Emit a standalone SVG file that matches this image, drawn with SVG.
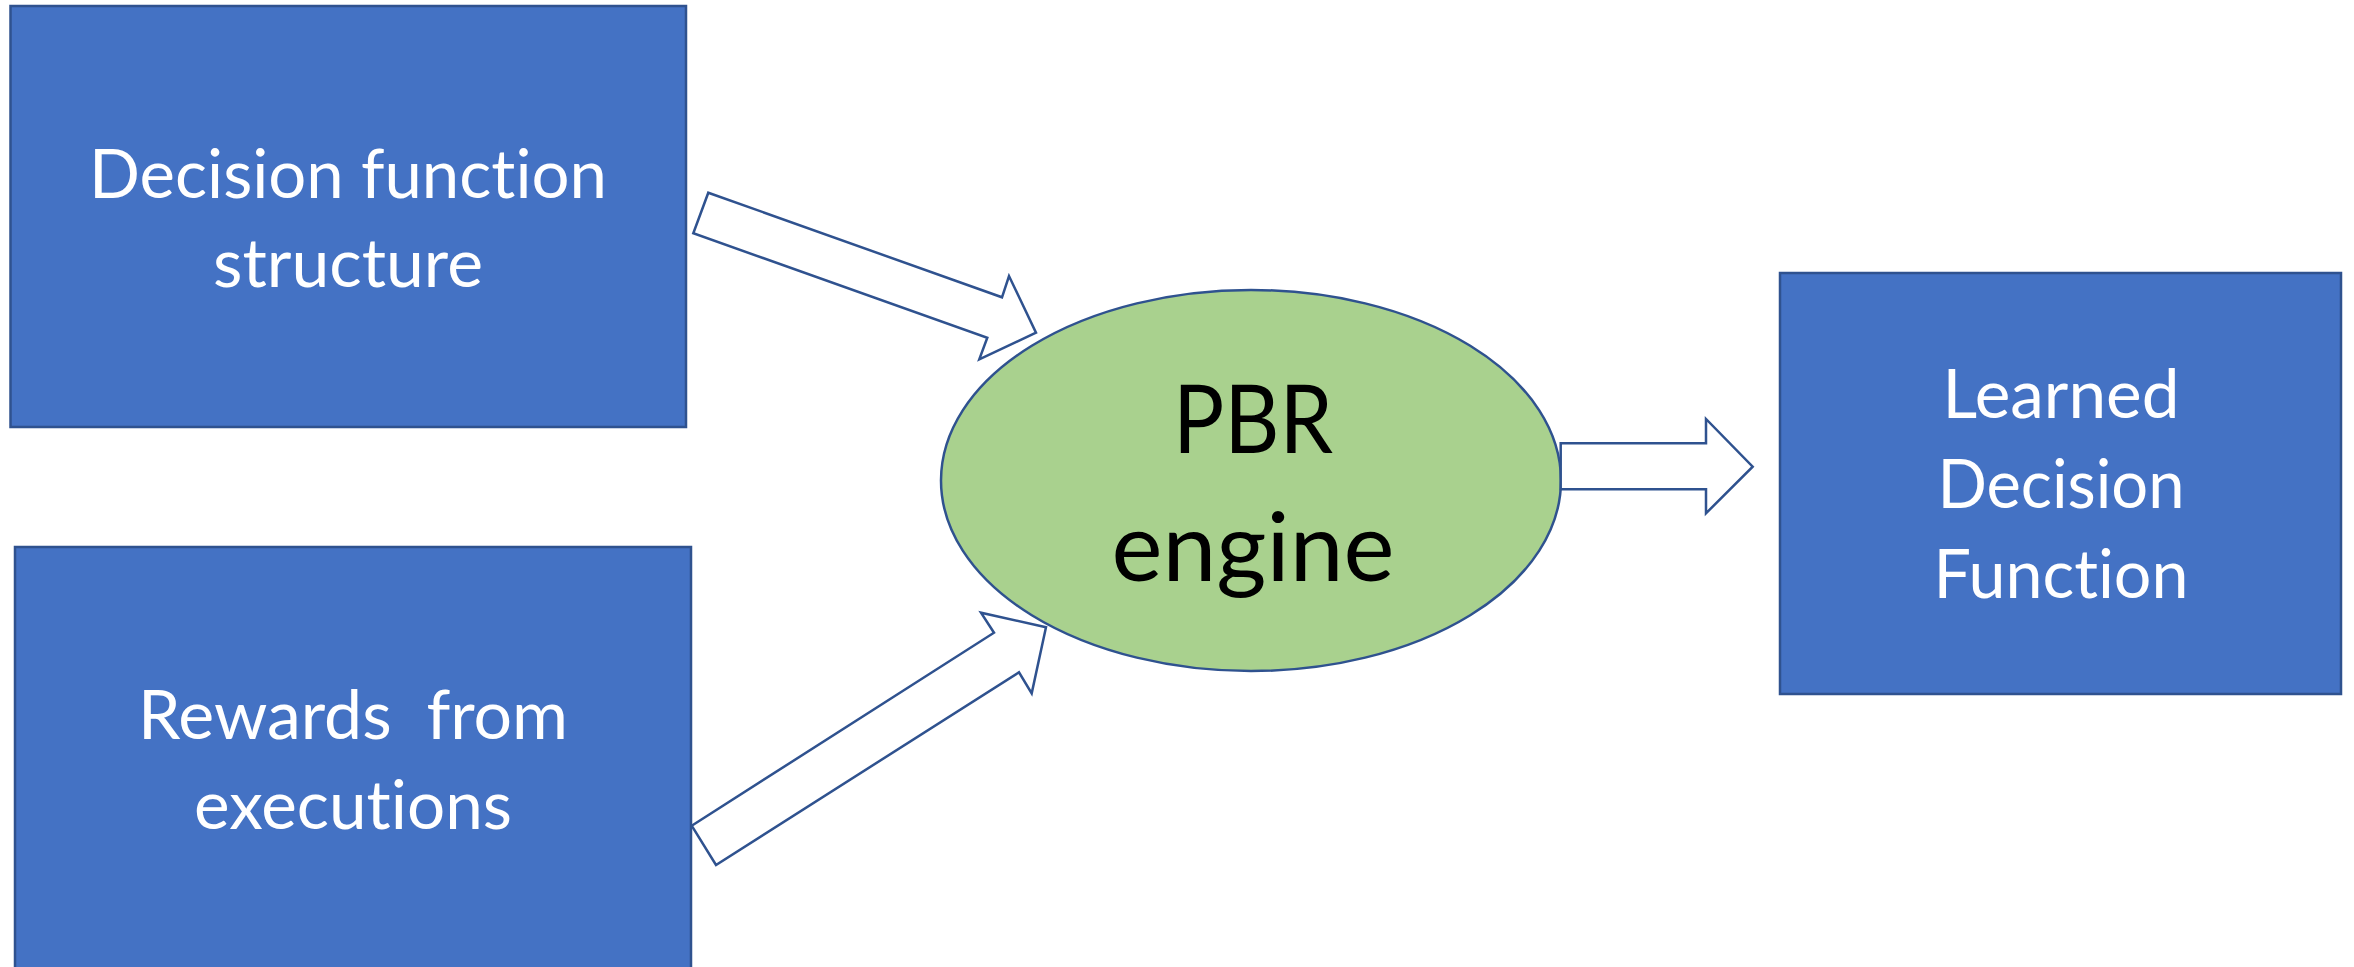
<svg xmlns="http://www.w3.org/2000/svg" width="2354" height="967" viewBox="0 0 2354 967">
  <style>
    .box { fill: #4472C4; stroke: #2F528F; stroke-width: 2.5; }
    .engine { fill: #A9D18E; stroke: #2F528F; stroke-width: 2.5; }
    text { font-variant-ligatures: none; font-feature-settings: "liga" 0, "clig" 0; }
    .label { font-family: Lato, "Open Sans", sans-serif; font-size: 68px; fill: #FFFFFF; text-anchor: middle; }
    .core { font-family: Lato, "Open Sans", sans-serif; font-size: 95px; fill: #000000; text-anchor: middle; }
    .flow { fill: #FFFFFF; stroke: #2F528F; stroke-width: 2.5; stroke-linejoin: miter; }
  </style>
  <rect width="2354" height="967" fill="#FFFFFF"/>

  <g id="decision-structure">
    <rect class="box" x="10.5" y="6" width="675.5" height="421"/>
    <text class="label" x="348" y="198" textLength="518" lengthAdjust="spacingAndGlyphs">Decision function</text>
    <text class="label" x="348" y="287" textLength="270" lengthAdjust="spacingAndGlyphs">structure</text>
  </g>

  <g id="rewards">
    <rect class="box" x="15" y="547" width="676" height="430"/>
    <text class="label" x="353" y="739" textLength="430" lengthAdjust="spacingAndGlyphs" xml:space="preserve">Rewards  from</text>
    <text class="label" x="353" y="829" textLength="318" lengthAdjust="spacingAndGlyphs">executions</text>
  </g>

  <g id="pbr-engine">
    <ellipse class="engine" cx="1251" cy="480.5" rx="310" ry="190.5"/>
    <text class="core" x="1253" y="453" textLength="160" lengthAdjust="spacingAndGlyphs">PBR</text>
    <text class="core" x="1253" y="581" textLength="283" lengthAdjust="spacingAndGlyphs">engine</text>
  </g>

  <g id="learned-function">
    <rect class="box" x="1780" y="273" width="561" height="421"/>
    <text class="label" x="2061" y="418" textLength="237" lengthAdjust="spacingAndGlyphs">Learned</text>
    <text class="label" x="2061" y="508" textLength="247" lengthAdjust="spacingAndGlyphs">Decision</text>
    <text class="label" x="2061" y="598" textLength="255" lengthAdjust="spacingAndGlyphs">Function</text>
  </g>

  <g id="connectors">
    <!-- block arrow: structure into engine -->
    <polygon class="flow" points="708.3,192.7 1002,297.3 1009,276 1036,332.7 979.3,359.3 987.3,337.7 693.3,233.3"/>
    <!-- block arrow: rewards into engine -->
    <polygon class="flow" points="691.7,825.7 994,632.7 981,612.7 1046,627.3 1031.7,693.3 1019,672.3 716,865"/>
    <!-- block arrow: engine out to learned function -->
    <polygon class="flow" points="1560.7,443.3 1706,443.3 1706,419 1752.7,466.7 1706,513.3 1706,489.3 1560.7,489.3"/>
  </g>
</svg>
